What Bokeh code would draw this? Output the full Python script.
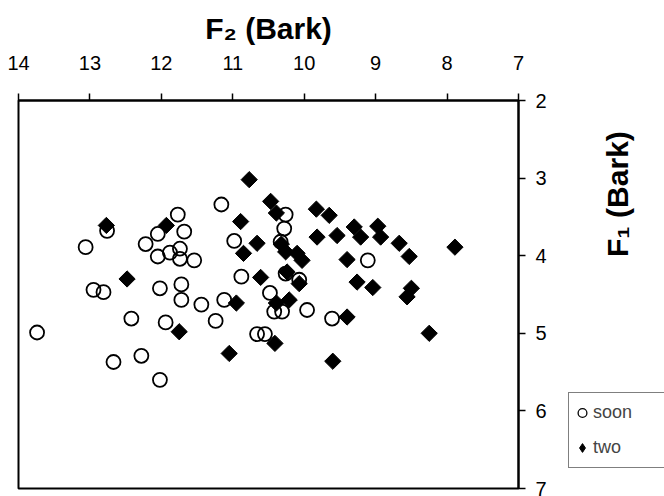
import math
from bokeh.plotting import figure
from bokeh.layouts import row
from bokeh.models import Range1d, LinearAxis, FixedTicker, Label, Legend, LegendItem
from bokeh.embed import file_html
from bokeh.resources import INLINE

# ---- data (F2 and F1 in Bark) ----
soon_f2 = [13.74, 13.06, 12.76, 12.95, 12.81, 12.42, 12.67, 12.28, 12.02, 11.94,
           12.02, 11.72, 11.72, 11.44, 11.12, 11.24, 11.16, 10.98, 10.88, 10.66,
           10.55, 11.77, 12.05, 11.68, 12.22, 11.74, 11.88, 12.05, 11.74, 11.54,
           10.26, 10.28, 10.33, 10.26, 10.07, 10.48, 10.42, 10.31, 9.96, 9.61, 9.11]
soon_f1 = [4.99, 3.89, 3.68, 4.44, 4.47, 4.81, 5.37, 5.29, 5.60, 4.86,
           4.42, 4.37, 4.57, 4.63, 4.57, 4.84, 3.34, 3.81, 4.27, 5.01,
           5.01, 3.47, 3.72, 3.69, 3.85, 3.91, 3.96, 4.01, 4.04, 4.06,
           3.47, 3.65, 3.82, 4.23, 4.31, 4.48, 4.72, 4.72, 4.70, 4.81, 4.06]

two_f2 = [12.77, 12.48, 11.93, 11.75, 10.95, 11.05, 10.77, 10.89, 10.66, 10.85,
          10.61, 10.47, 10.39, 10.32, 10.26, 10.10, 10.03, 10.24, 10.07, 10.21,
          10.39, 9.40, 10.41, 9.60, 9.82, 9.83, 9.65, 9.54, 9.30, 9.21,
          8.97, 8.93, 8.67, 9.40, 9.26, 9.04, 8.53, 8.50, 8.56, 8.25, 7.89]
two_f1 = [3.61, 4.30, 3.61, 4.98, 4.61, 5.26, 3.02, 3.56, 3.84, 3.97,
          4.28, 3.30, 3.45, 3.85, 3.95, 3.97, 4.06, 4.21, 4.36, 4.57,
          4.61, 4.79, 5.13, 5.36, 3.76, 3.40, 3.48, 3.74, 3.63, 3.76,
          3.62, 3.76, 3.84, 4.05, 4.34, 4.41, 4.01, 4.42, 4.53, 5.00, 3.89]

f2_ticks = [14, 13, 12, 11, 10, 9, 8, 7]
f1_ticks = [2, 3, 4, 5, 6, 7]
series_names = ["soon", "two"]
x_title = "F\u2082 (Bark)"
y_title = "F\u2081 (Bark)"

FONT = "Liberation Sans"
H = 496

# ---------------- main chart ----------------
p = figure(width=560, height=H,
           x_range=Range1d(14, 7), y_range=Range1d(7, 2),
           output_backend="svg", toolbar_location=None,
           x_axis_location=None, y_axis_location=None,
           min_border_left=18, min_border_right=42,
           min_border_top=100, min_border_bottom=8)
p.grid.visible = False
p.outline_line_color = "black"
p.outline_line_width = 2
p.background_fill_color = "white"
p.border_fill_color = "white"

top_axis = LinearAxis(ticker=FixedTicker(ticks=f2_ticks))
right_axis = LinearAxis(ticker=FixedTicker(ticks=f1_ticks))
for ax in (top_axis, right_axis):
    ax.major_tick_in = 0
    ax.major_tick_out = 7
    ax.minor_tick_line_color = None
    ax.major_tick_line_color = "black"
    ax.major_tick_line_width = 1.5
    ax.axis_line_color = "black"
    ax.axis_line_width = 2
    ax.major_label_text_font = FONT
    ax.major_label_text_font_size = "20px"
    ax.major_label_text_color = "black"
top_axis.major_label_standoff = 24
right_axis.major_label_standoff = 10
top_axis.axis_label = x_title
top_axis.axis_label_text_font = FONT
top_axis.axis_label_text_font_size = "30px"
top_axis.axis_label_text_font_style = "bold"
top_axis.axis_label_text_color = "black"
top_axis.axis_label_standoff = 8
p.add_layout(top_axis, "above")
p.add_layout(right_axis, "right")

SOON_STYLE = dict(marker="circle", size=14, fill_color=None,
                  line_color="black", line_width=1.8)
TWO_STYLE = dict(marker="square", angle=math.pi / 4, size=11.5,
                 fill_color="black", line_color="black", line_width=1)

p.scatter(soon_f2, soon_f1, **SOON_STYLE)
p.scatter(two_f2, two_f1, **TWO_STYLE)

# ---------------- right strip: F1 title + legend ----------------
pr = figure(width=104, height=H,
            x_range=Range1d(560, 664), y_range=Range1d(H, 0),
            output_backend="svg", toolbar_location=None,
            x_axis_location=None, y_axis_location=None, min_border=0)
pr.grid.visible = False
pr.outline_line_color = None
pr.background_fill_color = "white"
pr.border_fill_color = "white"

# legend keys carry the same series (they fall outside this strip's ranges)
lr_soon = pr.scatter(soon_f2, soon_f1, marker="circle", fill_color=None,
                     line_color="black", line_width=1.3)
lr_two = pr.scatter(two_f2, two_f1, marker="diamond",
                    fill_color="black", line_color="black", line_width=1)

pr.add_layout(Label(x=617, y=200, text=y_title, angle=math.pi / 2,
                    text_font=FONT, text_font_size="30px", text_font_style="bold",
                    text_color="black", text_align="left",
                    text_baseline="alphabetic"))

legend = Legend(items=[LegendItem(label=series_names[0], renderers=[lr_soon]),
                       LegendItem(label=series_names[1], renderers=[lr_two])],
                location=(8, 20))
legend.label_text_font = FONT
legend.label_text_font_size = "18px"
legend.glyph_width = 22
legend.glyph_height = 35
legend.label_height = 35
legend.label_width = 80
legend.spacing = 0
legend.padding = 2
legend.margin = 0
legend.label_standoff = -4
legend.border_line_color = "black"
legend.border_line_width = 1
legend.background_fill_color = "white"
pr.add_layout(legend, "center")

layout = row(p, pr)
open("out.html", "w").write(file_html(layout, INLINE))
